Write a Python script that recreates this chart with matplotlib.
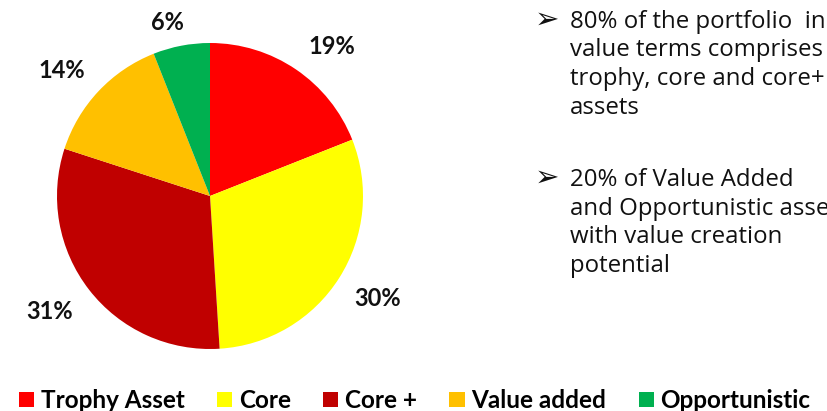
import math
import matplotlib
matplotlib.use('Agg')
from matplotlib import pyplot as plt

categories = ['Trophy Asset', 'Core', 'Core +', 'Value added', 'Opportunistic']
shares = [19, 30, 31, 14, 6]
colors = ['#FF0000', '#FFFF00', '#C00000', '#FFC000', '#00B050']

bullets = [
    ['80% of the portfolio  in', 'value terms comprises', 'trophy, core and core+', 'assets'],
    ['20% of Value Added', 'and Opportunistic assets', 'with value creation', 'potential'],
]

# where each percentage label sits: radius (in pie radii) and angular nudge (deg)
label_r = [1.26, 1.28, 1.29, 1.27, 1.17]
label_nudge = [-5, 1, -2, 3, 3]

W, H = 828, 411
fig = plt.figure(figsize=(W / 100, H / 100), dpi=100)

# pie centred at (210, 196) px, radius 153 px
cx, cy, r = 210, 196, 153
lim = 1.4
side = 2 * lim * r
ax = fig.add_axes([(cx - side / 2) / W, (H - cy - side / 2) / H, side / W, side / H])
wedges, _, autotexts = ax.pie(
    shares, colors=colors, startangle=90, counterclock=False,
    autopct=lambda p: '%d%%' % round(p), pctdistance=1.27,
    wedgeprops=dict(linewidth=0),
    textprops=dict(fontsize=17, fontweight='bold', fontfamily='Lato', color='#111111'),
)
for w, t, rr, dn in zip(wedges, autotexts, label_r, label_nudge):
    mid = math.radians((w.theta1 + w.theta2) / 2 + dn)
    t.set_position((rr * math.cos(mid), rr * math.sin(mid)))

ax.set_xlim(-lim, lim)
ax.set_ylim(-lim, lim)
ax.set_aspect('equal')
ax.axis('off')

fig.legend(wedges, categories, loc='lower left', bbox_to_anchor=(19 / W, -1 / H),
           ncol=5, frameon=False, borderpad=0, borderaxespad=0,
           handlelength=0.62, handleheight=0.62, handletextpad=0.28,
           columnspacing=1.33,
           prop=dict(family='Lato', weight='bold', size=17.5))

# bullet text on the right
step = 28.5
for top, lines in zip([28, 186], bullets):
    fig.text(535 / W, 1 - top / H, '\u27a2', fontsize=21, family='DejaVu Sans',
             color='#111111', va='baseline', ha='left')
    for i, line in enumerate(lines):
        fig.text(570 / W, 1 - (top + i * step) / H, line, fontsize=17.3,
                 family='Open Sans', color='#111111', va='baseline', ha='left')

fig.savefig('out.png', dpi=100)
